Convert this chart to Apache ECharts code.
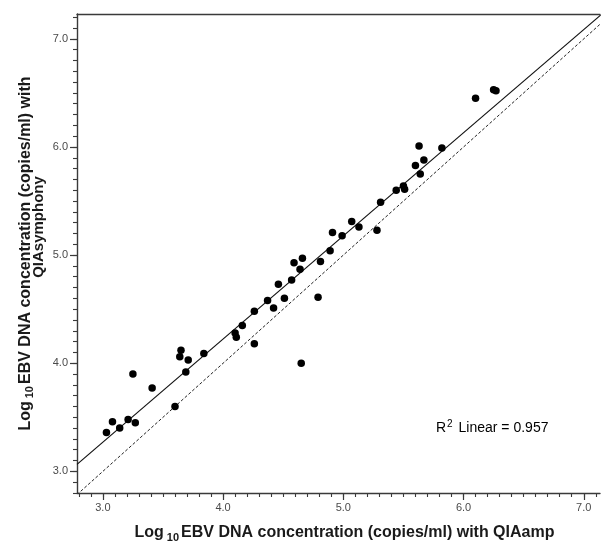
<!DOCTYPE html>
<html>
<head>
<meta charset="utf-8">
<script src="https://cdn.jsdelivr.net/npm/echarts@6/dist/echarts.min.js"></script>
<style>
  html, body { margin: 0; padding: 0; background: #fff; }
  #main { width: 601px; height: 542px; }
</style>
</head>
<body>
<div id="main"></div>
<script>
// log10 EBV copies/ml, QIAamp (x) vs QIAsymphony (y)
const qiaAmp = [3.03, 3.08, 3.14, 3.21, 3.27, 3.25, 3.41, 3.60, 3.65, 3.64, 3.71, 3.69, 3.84,
  4.10, 4.11, 4.16, 4.26, 4.26, 4.37, 4.42, 4.46, 4.51, 4.57, 4.59, 4.64, 4.66, 4.65, 4.79,
  4.81, 4.89, 4.91, 4.99, 5.07, 5.13, 5.28, 5.31, 5.44, 5.50, 5.51, 5.60, 5.64, 5.67, 5.63,
  5.82, 6.10, 6.25, 6.27];
const qiaSymphony = [3.36, 3.46, 3.40, 3.48, 3.45, 3.90, 3.77, 3.60, 4.12, 4.06, 4.03, 3.92, 4.09,
  4.28, 4.24, 4.35, 4.48, 4.18, 4.58, 4.51, 4.73, 4.60, 4.77, 4.93, 4.87, 4.97, 4.00, 4.61,
  4.94, 5.04, 5.21, 5.18, 5.31, 5.26, 5.23, 5.49, 5.60, 5.64, 5.61, 5.83, 5.75, 5.88, 6.01,
  5.99, 6.45, 6.53, 6.52];

// fit line and line of identity, end points
const fitLine = [[2.785, 3.065], [7.14, 7.22]];
const identityLine = [[2.785, 2.785], [7.2, 7.2]];

const majorTicks = [3, 4, 5, 6, 7];
const xMin = 2.785, xMax = 7.135;
const yMin = 2.8, yMax = 7.23;

const xMinor = [], yMinor = [];
for (let i = 28; i <= 71; i++) xMinor.push(i / 10);
for (let i = 28; i <= 72; i++) yMinor.push(i / 10);

const points = qiaAmp.map((x, i) => [x, qiaSymphony[i]]);

const axisColor = '#3a3a3a';
const labelStyle = { color: '#4a4a4a', fontSize: 11, fontFamily: 'Liberation Sans' };
const font = 'Liberation Sans';

const xTitleRich = {
  b: { fontSize: 16, fontWeight: 'bold', color: '#1a1a1a', fontFamily: font, lineHeight: 18 },
  sub: { fontSize: 11, fontWeight: 'bold', color: '#1a1a1a', fontFamily: font, lineHeight: 18, padding: [9, 2, 0, 3] }
};
const yTitleRich = {
  b: { fontSize: 16, fontWeight: 'bold', color: '#1a1a1a', fontFamily: font, lineHeight: 15 },
  sub: { fontSize: 11, fontWeight: 'bold', color: '#1a1a1a', fontFamily: font, lineHeight: 15, padding: [9, 2, 0, 3] }
};

const chart = echarts.init(document.getElementById('main'));

const option = {
  animation: false,
  backgroundColor: '#fff',
  grid: [
    { left: 77, right: 1, top: 14, bottom: 49, outerBoundsMode: 'none' },
    { left: 77, right: 1, top: 14, bottom: 49, outerBoundsMode: 'none' }
  ],
  xAxis: [
    {
      type: 'value', gridIndex: 0, position: 'bottom', min: xMin, max: xMax,
      splitLine: { show: false },
      axisLine: { lineStyle: { color: axisColor, width: 1.4 } },
      axisTick: { customValues: majorTicks, length: 7, lineStyle: { color: axisColor, width: 1.2 } },
      axisLabel: Object.assign({ customValues: majorTicks, margin: 9, formatter: v => v.toFixed(1) }, labelStyle),
      name: '{b|Log}{sub|10}{b|EBV DNA concentration (copies/ml) with QIAamp}',
      nameLocation: 'middle',
      nameGap: 31,
      nameMoveOverlap: false,
      nameTextStyle: { rich: xTitleRich, padding: [0, 0, 0, 12] }
    },
    {
      type: 'value', gridIndex: 0, position: 'top', min: xMin, max: xMax,
      splitLine: { show: false },
      axisLine: { lineStyle: { color: axisColor, width: 1.4 } },
      axisTick: { show: false },
      axisLabel: { show: false }
    },
    {
      type: 'value', gridIndex: 1, position: 'bottom', min: xMin, max: xMax,
      splitLine: { show: false },
      axisLine: { show: false },
      axisTick: { customValues: xMinor, length: 4, lineStyle: { color: axisColor, width: 1.1 } },
      axisLabel: { show: false }
    }
  ],
  yAxis: [
    {
      type: 'value', gridIndex: 0, position: 'left', min: yMin, max: yMax,
      splitLine: { show: false },
      axisLine: { lineStyle: { color: axisColor, width: 1.4 } },
      axisTick: { customValues: majorTicks, length: 7, lineStyle: { color: axisColor, width: 1.2 } },
      axisLabel: Object.assign({ customValues: majorTicks, margin: 9, formatter: v => v.toFixed(1) }, labelStyle),
      name: '{b|Log}{sub|10}{b|EBV DNA concentration (copies/ml) with}',
      nameLocation: 'middle',
      nameRotate: 90,
      nameGap: 44,
      nameMoveOverlap: false,
      nameTextStyle: { rich: yTitleRich, align: 'center' }
    },
    {
      type: 'value', gridIndex: 1, position: 'left', min: yMin, max: yMax,
      splitLine: { show: false },
      axisLine: { show: false },
      axisTick: { customValues: yMinor, length: 4, lineStyle: { color: axisColor, width: 1.1 } },
      axisLabel: { show: false }
    }
  ],
  graphic: [
    {
      // second line of the y title, sits a bit higher than the first
      type: 'text',
      x: 39,
      y: 227,
      rotation: Math.PI / 2,
      style: {
        text: 'QIAsymphony',
        fontSize: 15,
        fontWeight: 'bold',
        fontFamily: font,
        fill: '#1a1a1a',
        align: 'center',
        verticalAlign: 'middle'
      }
    },
    {
      type: 'text',
      left: 436,
      top: 419,
      style: {
        text: '{r|R}{sup|2}{r| Linear = 0.957}',
        rich: {
          r: { fontSize: 14, color: '#222', fontFamily: font, lineHeight: 18 },
          sup: { fontSize: 10, color: '#222', fontFamily: font, lineHeight: 18, padding: [0, 2, 9, 1] }
        }
      }
    }
  ],
  series: [
    {
      name: 'identity',
      type: 'line',
      xAxisIndex: 0, yAxisIndex: 0,
      data: identityLine,
      symbol: 'none',
      clip: true,
      lineStyle: { color: '#222', width: 1, type: [3, 2] },
      z: 2
    },
    {
      name: 'fit',
      type: 'line',
      xAxisIndex: 0, yAxisIndex: 0,
      data: fitLine,
      symbol: 'none',
      clip: true,
      lineStyle: { color: '#111', width: 1.2 },
      z: 2
    },
    {
      name: 'samples',
      type: 'scatter',
      xAxisIndex: 0, yAxisIndex: 0,
      data: points,
      symbol: 'circle',
      symbolSize: 7.5,
      itemStyle: { color: '#000', opacity: 1 },
      z: 3
    }
  ]
};

chart.setOption(option);
</script>
</body>
</html>
